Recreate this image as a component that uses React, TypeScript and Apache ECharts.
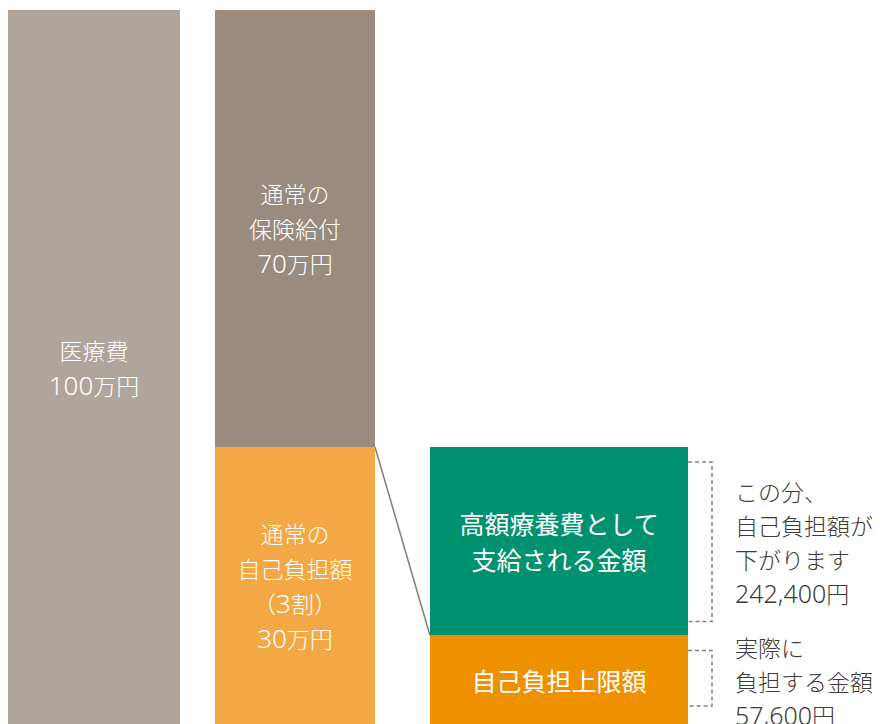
import React, { useEffect, useRef } from "react";
import * as echarts from "echarts";

// Illustrative (not-to-scale) heights of the drawn blocks, in display units (0-100)
const col1Heights = [100];
const col1Labels = ["医療費\n100万円"];

// bottom first: 通常の自己負担額, then 通常の保険給付
const col2Heights = [38.8, 61.2];
const col2Labels = ["通常の\n自己負担額\n（3割）\n30万円", "通常の\n保険給付\n70万円"];

// bottom first: 自己負担上限額, then 高額療養費として支給される金額
const col3Heights = [12.4, 26.4];
const col3Labels = ["自己負担上限額", "高額療養費として\n支給される金額"];

const noteGreen = "この分、\n自己負担額が\n下がります\n242,400円";
const noteOrange = "実際に\n負担する金額\n57,600円";

const CJK = '"Noto Sans CJK JP", "Noto Sans", sans-serif';
const LATIN = '"Noto Sans", "Noto Sans CJK JP", sans-serif';

// wrap digit runs and other runs into rich-text tokens
function toRich(s: string): string {
  return s
    .split("\n")
    .map((line) =>
      line.replace(/([0-9,]+)|([^0-9,]+)/g, (_m, d, c) => (d ? `{d|${d}}` : `{c|${c}}`))
    )
    .join("\n");
}

function richStyles(color: string, cjkSize: number, digitSize: number, lineHeight: number, weight: number) {
  return {
    c: { color, fontFamily: CJK, fontSize: cjkSize, fontWeight: weight, lineHeight },
    d: { color, fontFamily: LATIN, fontSize: digitSize, fontWeight: weight, lineHeight },
  };
}

export default function App() {
  const ref = useRef<HTMLDivElement>(null);

  useEffect(() => {
    document.documentElement.style.overflow = "hidden";
    document.body.style.overflow = "hidden";
    const chart = echarts.init(ref.current!, null, { renderer: "svg" });

    const grids = [
      { left: 0, width: 172, top: 2, bottom: -2 },
      { left: 207, width: 160, top: 2, bottom: -2 },
      { left: 422, width: 258, top: 2, bottom: -2 },
    ];

    const baseLabel = {
      show: true,
      position: "inside",
      color: "#ffffff",
      fontFamily: CJK,
      fontWeight: 300,
      fontSize: 23,
      lineHeight: 35,
      rich: richStyles("#ffffff", 23, 26, 35, 300),
    };
    const bigLabel = {
      show: true,
      position: "inside",
      color: "#ffffff",
      fontFamily: CJK,
      fontWeight: 400,
      fontSize: 25,
      lineHeight: 36,
    };

    const mk = (idx: number, stack: string, value: number, color: string, text: string, lbl: any, rich: boolean) => ({
      type: "bar",
      xAxisIndex: idx,
      yAxisIndex: idx,
      stack,
      data: [value],
      barWidth: "100%",
      silent: true,
      itemStyle: { color },
      label: { ...lbl, formatter: rich ? toRich(text) : text },
      emphasis: { disabled: true },
    });

    chart.setOption({
      animation: false,
      grid: grids,
      xAxis: grids.map((_, i) => ({
        type: "category",
        gridIndex: i,
        data: ["x"],
        show: false,
        boundaryGap: true,
      })),
      yAxis: grids.map((_, i) => ({
        type: "value",
        gridIndex: i,
        min: 0,
        max: 100,
        show: false,
      })),
      series: [
        mk(0, "a", col1Heights[0], "#B0A59B", col1Labels[0], baseLabel, true),
        mk(1, "b", col2Heights[0], "#F3A845", col2Labels[0], baseLabel, true),
        mk(1, "b", col2Heights[1], "#998B7D", col2Labels[1], baseLabel, true),
        mk(2, "c", col3Heights[0], "#EF9000", col3Labels[0], bigLabel, false),
        mk(2, "c", col3Heights[1], "#00916E", col3Labels[1], bigLabel, false),
      ],
    });

    const y2split = chart.convertToPixel({ gridIndex: 1 } as any, ["x", col2Heights[0]] as any) as any;
    const g3Split = chart.convertToPixel({ gridIndex: 2 } as any, ["x", col3Heights[0]] as any) as any;
    const g3Top = chart.convertToPixel({ gridIndex: 2 } as any, ["x", col3Heights[0] + col3Heights[1]] as any) as any;
    const g3Bot = chart.convertToPixel({ gridIndex: 2 } as any, ["x", 0] as any) as any;

    const bar2Right = grids[1].left + grids[1].width;
    const bar3Left = grids[2].left;
    const bar3Right = grids[2].left + grids[2].width;
    const bx = bar3Right + 24;

    const dashStyle = { stroke: "#8C8078", lineWidth: 1.5, lineDash: [4, 3], fill: null };
    const textStyle = {
      fill: "#3F3B3A",
      fontFamily: CJK,
      fontWeight: 300,
      fontSize: 23,
      lineHeight: 34,
      align: "left",
      verticalAlign: "middle",
      rich: richStyles("#3F3B3A", 23, 25, 34, 300),
    };

    chart.setOption({
      graphic: [
        {
          type: "line",
          silent: true,
          shape: { x1: bar2Right, y1: y2split[1], x2: bar3Left, y2: g3Split[1] },
          style: { stroke: "#8A7B6E", lineWidth: 1.5 },
        },
        {
          type: "polyline",
          silent: true,
          shape: {
            points: [
              [bar3Right, g3Top[1] + 15],
              [bx, g3Top[1] + 15],
              [bx, g3Split[1] - 14],
              [bar3Right, g3Split[1] - 14],
            ],
          },
          style: dashStyle,
        },
        {
          type: "polyline",
          silent: true,
          shape: {
            points: [
              [bar3Right, g3Split[1] + 15],
              [bx, g3Split[1] + 15],
              [bx, g3Bot[1] - 18],
              [bar3Right, g3Bot[1] - 18],
            ],
          },
          style: dashStyle,
        },
        {
          type: "text",
          silent: true,
          x: bar3Right + 47,
          y: (g3Top[1] + g3Split[1]) / 2 + 1,
          style: { ...textStyle, text: toRich(noteGreen) },
        },
        {
          type: "text",
          silent: true,
          x: bar3Right + 47,
          y: (g3Split[1] + g3Bot[1]) / 2 + 1,
          style: { ...textStyle, text: toRich(noteOrange) },
        },
      ],
    });

    return () => chart.dispose();
  }, []);

  return <div ref={ref} style={{ width: 864, height: 716 }} />;
}
